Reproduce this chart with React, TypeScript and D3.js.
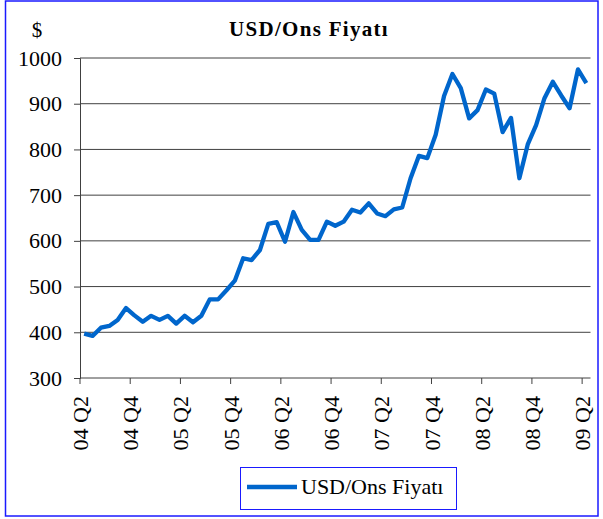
import React, { useEffect, useRef } from "react";
import * as d3 from "d3";

// monthly gold price, Apr 2004 - Apr 2009 (USD/ons)
const months = d3.timeMonth.range(new Date(2004, 3, 1), new Date(2009, 4, 1));
const prices = [
  397, 392, 410, 414, 427, 453, 437, 423, 436, 427, 436, 419,
  436, 422, 436, 472, 472, 492, 513, 562, 558, 580, 637, 641,
  598, 663, 624, 602, 602, 642, 633, 642, 668, 662, 682, 660,
  654, 669, 673, 737, 786, 781, 832, 917, 965, 934, 868, 886,
  931, 922, 838, 869, 737, 811, 853, 912, 948, 918, 890, 975,
  945,
];
const tickLabels = [
  "04 Q2", "04 Q4", "05 Q2", "05 Q4", "06 Q2", "06 Q4",
  "07 Q2", "07 Q4", "08 Q2", "08 Q4", "09 Q2",
];
const yTicks = [300, 400, 500, 600, 700, 800, 900, 1000];

const W = 603;
const H = 519;
const FONT = "'Liberation Serif', 'Times New Roman', serif";

export default function App() {
  const ref = useRef<SVGSVGElement | null>(null);

  useEffect(() => {
    const svg = d3.select(ref.current);
    svg.selectAll("*").remove();

    const left = 80, right = 590.5, top = 58, bottom = 378;

    const x = d3.scaleBand<Date>().domain(months).range([left, right]).paddingInner(0);
    const y = d3.scaleLinear().domain([300, 1000]).range([bottom, top]);
    const bw = x.bandwidth();

    // outer frame
    svg.append("rect")
      .attr("x", 5.5).attr("y", 1).attr("width", 592.5).attr("height", 515)
      .attr("fill", "#fff").attr("stroke", "#1a1aff").attr("stroke-width", 1.5);

    // title + unit
    svg.append("text")
      .attr("x", 309).attr("y", 36)
      .attr("text-anchor", "middle")
      .attr("font-family", FONT).attr("font-size", 21).attr("font-weight", "bold")
      .attr("letter-spacing", 1.3)
      .text("USD/Ons Fiyatı");
    svg.append("text")
      .attr("x", 37).attr("y", 37)
      .attr("text-anchor", "middle")
      .attr("font-family", FONT).attr("font-size", 21)
      .text("$");

    // gridlines
    svg.append("g").selectAll("line")
      .data(yTicks.filter((d) => d > 300))
      .join("line")
      .attr("x1", left).attr("x2", right)
      .attr("y1", (d) => y(d)).attr("y2", (d) => y(d))
      .attr("stroke", "#404040").attr("stroke-width", 1);

    // y axis
    const ya = svg.append("g").attr("transform", `translate(${left},0)`)
      .call(d3.axisLeft(y).tickValues(yTicks).tickSize(6).tickPadding(12).tickFormat(d3.format("d")));
    ya.select(".domain").attr("stroke", "#404040");
    ya.selectAll(".tick line").attr("stroke", "#404040");
    ya.selectAll("text").attr("font-family", FONT).attr("font-size", 22).attr("fill", "#000");

    // x axis
    const tickMonths = months.filter((_, i) => i % 6 === 0);
    svg.append("line")
      .attr("x1", left).attr("x2", right).attr("y1", bottom).attr("y2", bottom)
      .attr("stroke", "#404040");
    const xt = svg.append("g").selectAll("g")
      .data(tickMonths)
      .join("g")
      .attr("transform", (d) => `translate(${x(d)},${bottom})`);
    xt.append("line").attr("y2", 6).attr("stroke", "#404040");
    xt.append("text")
      .attr("transform", "translate(3,18) rotate(-90)")
      .attr("text-anchor", "end")
      .attr("dominant-baseline", "middle")
      .attr("font-family", FONT).attr("font-size", 22)
      .text((_, i) => tickLabels[i]);

    // price line
    const line = d3.line<number>()
      .x((_, i) => (x(months[i]) as number) + bw / 2)
      .y((d) => y(d));
    svg.append("path")
      .datum(prices)
      .attr("d", line)
      .attr("fill", "none")
      .attr("stroke", "#0066cc")
      .attr("stroke-width", 4.3)
      .attr("stroke-linejoin", "round");

    // legend
    const lg = svg.append("g");
    lg.append("rect")
      .attr("x", 240.5).attr("y", 467.5).attr("width", 216).attr("height", 42)
      .attr("fill", "#fff").attr("stroke", "#1a1aff").attr("stroke-width", 1);
    lg.append("line")
      .attr("x1", 247).attr("x2", 297).attr("y1", 487).attr("y2", 487)
      .attr("stroke", "#0066cc").attr("stroke-width", 4.3);
    lg.append("text")
      .attr("x", 301).attr("y", 494)
      .attr("font-family", FONT).attr("font-size", 22)
      .text("USD/Ons Fiyatı");
  }, []);

  return (
    <svg
      ref={ref}
      width={W}
      height={H}
      style={{ position: "absolute", left: 0, top: 0, background: "#fff" }}
    />
  );
}
